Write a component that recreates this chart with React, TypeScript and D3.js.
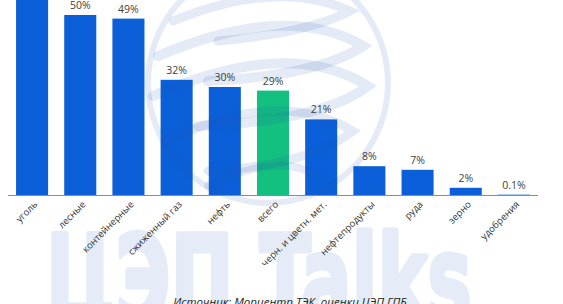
import React from "react";
import * as d3 from "d3";

const categories = [
  "уголь",
  "лесные",
  "контейнерные",
  "сжиженный газ",
  "нефть",
  "всего",
  "черн. и цветн. мет.",
  "нефтепродукты",
  "руда",
  "зерно",
  "удобрения",
];
const values = [56, 50, 49, 32, 30, 29, 21, 8, 7, 2, 0.1];
const valueLabels = ["56%", "50%", "49%", "32%", "30%", "29%", "21%", "8%", "7%", "2%", "0.1%"];
const highlight = ["всего"];
const sourceText = "Источник: Морцентр ТЭК, оценки ЦЭП ГПБ";
const watermarkText = "ЦЭП Talks";

const W = 563;
const H = 304;
const BLUE = "#0b5fd8";
const GREEN = "#13c07f";

export default function App() {
  const x = d3
    .scaleBand<string>()
    .domain(categories)
    .range([8, 538])
    .paddingInner(0.335)
    .paddingOuter(0.167);
  const y = d3.scaleLinear().domain([0, 50]).range([195, 15]);
  const baseY = y(0);

  const cx = 268;
  const cy = 83;
  const r = 120;

  return (
    <svg
      width={W}
      height={H}
      style={{ position: "absolute", left: 0, top: 0, background: "#fff" }}
      fontFamily="'Open Sans', 'Noto Sans', sans-serif"
    >
      {/* watermark text */}
      <text
        x={46}
        y={322}
        fontSize={122}
        fontWeight={700}
        fontFamily="'DejaVu Sans', sans-serif"
        fill="#e5ecf7"
        stroke="#e5ecf7"
        strokeWidth={5}
        strokeLinejoin="round"
        textLength={426}
        lengthAdjust="spacingAndGlyphs"
      >
        {watermarkText}
      </text>

      {categories.map((c, i) => {
        const bx = x(c)!;
        const top = y(values[i]);
        return (
          <rect
            key={c}
            x={bx}
            y={top}
            width={x.bandwidth()}
            height={baseY - top}
            fill={highlight.includes(c) ? GREEN : BLUE}
          />
        );
      })}

      {/* globe watermark over the bars */}
      <g fill="none" stroke="#1d55b8" strokeOpacity={0.12} strokeLinecap="round">
        <circle cx={cx} cy={cy} r={r} strokeWidth={6} />
        <path d={`M ${cx - 95} ${cy - 62} Q ${cx + 10} ${cy - 105} ${cx + 82} ${cy - 72} Q ${cx + 40} ${cy - 50} ${cx - 50} ${cy - 42}`} strokeWidth={9} />
        <path d={`M ${cx - 110} ${cy - 27} Q ${cx + 20} ${cy - 82} ${cx + 95} ${cy - 37} Q ${cx + 50} ${cy - 7} ${cx - 60} ${cy - 2}`} strokeWidth={10} />
        <path d={`M ${cx - 115} ${cy + 13} Q ${cx + 20} ${cy - 47} ${cx + 100} ${cy + 3} Q ${cx + 55} ${cy + 38} ${cx - 70} ${cy + 43}`} strokeWidth={10} />
        <path d={`M ${cx - 100} ${cy + 58} Q ${cx + 10} ${cy + 3} ${cx + 85} ${cy + 48} Q ${cx + 40} ${cy + 83} ${cx - 60} ${cy + 88}`} strokeWidth={9} />
        <path d={`M ${cx - 60} ${cy + 103} Q ${cx + 10} ${cy + 68} ${cx + 50} ${cy + 93}`} strokeWidth={8} />
      </g>

      {/* axis line */}
      <line x1={8} x2={538} y1={baseY + 0.5} y2={baseY + 0.5} stroke="#8c8c8c" strokeWidth={1.2} />

      {categories.map((c, i) => {
        const cxm = x(c)! + x.bandwidth() / 2;
        return (
          <text
            key={"v" + c}
            x={cxm}
            y={y(values[i]) - 6}
            textAnchor="middle"
            fontSize={10.5}
            fill="#404040"
          >
            {valueLabels[i]}
          </text>
        );
      })}

      {categories.map((c) => {
        const cxm = x(c)! + x.bandwidth() / 2 + 6;
        const ty = 205;
        return (
          <text
            key={"c" + c}
            x={cxm}
            y={ty}
            textAnchor="end"
            fontSize={9.5}
            fill="#333"
            transform={`rotate(-45 ${cxm} ${ty})`}
          >
            {c}
          </text>
        );
      })}

      <text
        x={290}
        y={306}
        textAnchor="middle"
        fontSize={11.5}
        fontStyle="italic"
        fill="#222"
      >
        {sourceText}
      </text>
    </svg>
  );
}
